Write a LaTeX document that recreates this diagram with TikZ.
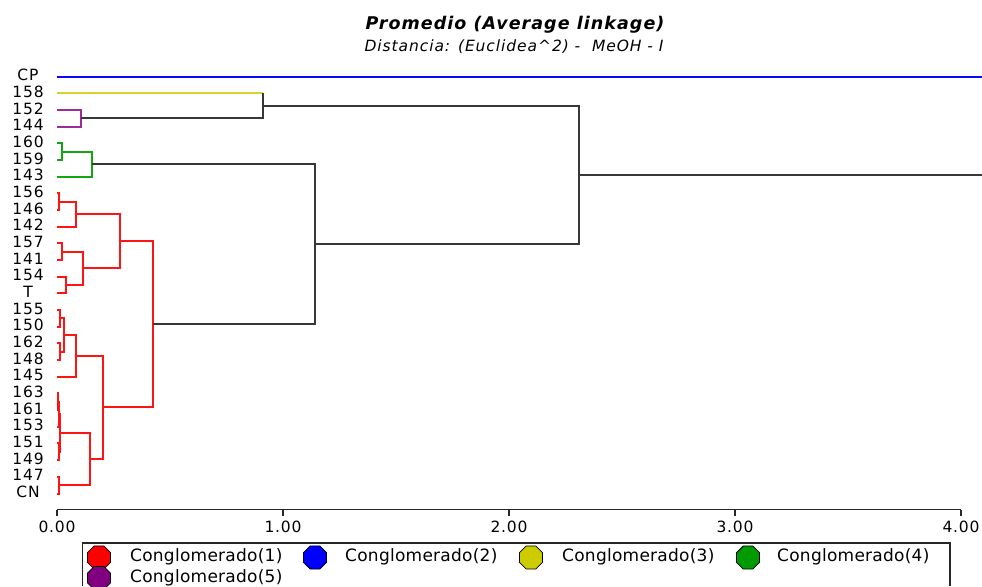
\documentclass[tikz,border=0pt]{standalone}
\usepackage{fontspec}
\setmainfont{DejaVu Sans}
\newfontfamily\labfont[LetterSpace=6]{DejaVu Sans}
\newfontfamily\tickfont[LetterSpace=5]{DejaVu Sans}
\newfontfamily\legfont[LetterSpace=1.5]{DejaVu Sans}
\newfontfamily\ttlfont[LetterSpace=6]{DejaVu Sans Bold Oblique}
\newfontfamily\subfont[LetterSpace=6]{DejaVu Sans Oblique}
\usetikzlibrary{calc,shapes.geometric}

\definecolor{cRed}{RGB}{255,20,20}
\definecolor{cBlue}{RGB}{10,10,255}
\definecolor{cYellow}{RGB}{218,208,50}
\definecolor{cGreen}{RGB}{20,165,20}
\definecolor{cPurple}{RGB}{155,45,155}
\definecolor{fRed}{RGB}{255,0,0}
\definecolor{fBlue}{RGB}{0,0,255}
\definecolor{fYellow}{RGB}{204,204,0}
\definecolor{fGreen}{RGB}{0,155,0}
\definecolor{fPurple}{RGB}{128,0,128}

\tikzset{
  leaflab/.style={font=\labfont\fontsize{15.5}{17}\selectfont, inner sep=0pt, anchor=center},
  ticklab/.style={font=\tickfont\fontsize{15.5}{17}\selectfont, inner sep=0pt, anchor=center},
  legtext/.style={font=\legfont\fontsize{17}{19}\selectfont, inner sep=0pt, anchor=base west},
  br/.style={line width=2pt, line join=miter},
  redbr/.style={br, draw=cRed},
  bluebr/.style={br, draw=cBlue},
  yellowbr/.style={br, draw=cYellow},
  greenbr/.style={br, draw=cGreen},
  purplebr/.style={br, draw=cPurple},
  blackbr/.style={line width=2pt, draw=black!78, line join=miter},
  axisline/.style={line width=1.4pt, draw=black!85},
  oct/.style={regular polygon, regular polygon sides=8, minimum size=25pt,
              inner sep=0pt, draw=black, line width=0.8pt},
}

% merge of two clusters #2 and #3 at distance (x position) #4;
% the new cluster is the coordinate #1, drawn in style #5
\newcommand\mrg[5]{%
  \path ($(#2)!0.5!(#3)$) coordinate (#1-mid);
  \path let \p1=(#1-mid) in coordinate (#1) at (#4pt,\y1);
  \draw[#5] (#2) -- (#2 -| #1) -- (#3 -| #1) -- (#3);
}

\begin{document}
\begin{tikzpicture}[x=1pt,y=-1pt]
\useasboundingbox (0,0) rectangle (982,586);

% titles
\node[font=\ttlfont\fontsize{17.5}{19}\selectfont, anchor=base, inner sep=0pt] (title) at (515,30) {Promedio (Average linkage)};
\node[font=\subfont\fontsize{15.5}{17}\selectfont, anchor=base, inner sep=0pt] (subtitle) at (514,51.5) {Distancia: (Euclidea\^{}2) -\ \ MeOH - I};

% leaves: labels and line starts
\foreach \t [count=\i from 0] in {CP,158,152,144,160,159,143,156,146,142,157,141,154,T,155,150,162,148,145,163,161,153,151,149,147,CN}{
  \node[leaflab] (n-\t) at (28,{75+16.68*\i}) {\t};
  \coordinate (l-\t) at (57,{76.5+16.68*\i});
}
\coordinate (redge) at (982,0);

% cluster 2 (CP)
\draw[bluebr] (l-CP) -- (l-CP -| redge);

% cluster 5 and cluster 3
\mrg{P}{l-152}{l-144}{81}{purplebr}
\path ($(l-158)!0.5!(P)$) coordinate (Y-mid);
\path let \p1=(Y-mid) in coordinate (Y) at (263pt,\y1);
\draw[yellowbr] (l-158) -- (l-158 -| Y);
\draw[blackbr] (P) -- (P -| Y) -- (l-158 -| Y);

% cluster 4
\mrg{g1}{l-160}{l-159}{62}{greenbr}
\mrg{G}{g1}{l-143}{92}{greenbr}

% cluster 1
\mrg{r1}{l-156}{l-146}{59}{redbr}
\mrg{r2}{r1}{l-142}{76}{redbr}
\mrg{r3}{l-157}{l-141}{62}{redbr}
\mrg{r4}{l-154}{l-T}{66}{redbr}
\mrg{r5}{r3}{r4}{83}{redbr}
\mrg{r6}{r2}{r5}{120}{redbr}
\mrg{r7}{l-155}{l-150}{60}{redbr}
\mrg{r8}{l-162}{l-148}{59.5}{redbr}
\mrg{r9}{r7}{r8}{64}{redbr}
\mrg{r10}{r9}{l-145}{76}{redbr}
\mrg{r11}{l-163}{l-161}{57.7}{redbr}
\mrg{r12}{r11}{l-153}{59}{redbr}
\mrg{r13}{l-151}{l-149}{58.5}{redbr}
\mrg{r14}{r12}{r13}{60}{redbr}
\mrg{r15}{l-147}{l-CN}{59}{redbr}
\mrg{r16}{r14}{r15}{90}{redbr}
\mrg{r17}{r10}{r16}{103}{redbr}
\mrg{R}{r6}{r17}{153}{redbr}

% joins between clusters
\mrg{L}{G}{R}{315}{blackbr}
\mrg{top}{Y}{L}{579}{blackbr}
\draw[blackbr] (top) -- (top -| redge);

% distance axis
\coordinate (ax0) at (57,509.5);
\coordinate (ax4) at (961,509.5);
\draw[axisline] (ax0) -- (ax4);
\foreach \k in {0,...,4}{
  \coordinate (tk\k) at ({57+226*\k},509.5);
  \draw[axisline] (tk\k) -- ++(0,6);
  \node[ticklab] (tl\k) at ({57+226*\k},527.3) {\k.00};
}

% legend
\coordinate (lgA) at (82.7,586);
\coordinate (lgB) at (82.7,543);
\coordinate (lgC) at (950,543);
\coordinate (lgD) at (950,586);
\draw[line width=1.3pt, draw=black!85] (lgA) -- (lgB) -- (lgC) -- (lgD);
\node[oct, fill=fRed]    (k1) at (99,557.5) {};
\node[oct, fill=fBlue]   (k2) at (315,557.5) {};
\node[oct, fill=fYellow] (k3) at (531,557.5) {};
\node[oct, fill=fGreen]  (k4) at (748,557.5) {};
\node[oct, fill=fPurple] (k5) at (99,578) {};
\node[legtext] (t1) at (130,561.5) {Conglomerado(1)};
\node[legtext] (t2) at (345,561.5) {Conglomerado(2)};
\node[legtext] (t3) at (562,561.5) {Conglomerado(3)};
\node[legtext] (t4) at (777,561.5) {Conglomerado(4)};
\node[legtext] (t5) at (130,582) {Conglomerado(5)};
\end{tikzpicture}
\end{document}
